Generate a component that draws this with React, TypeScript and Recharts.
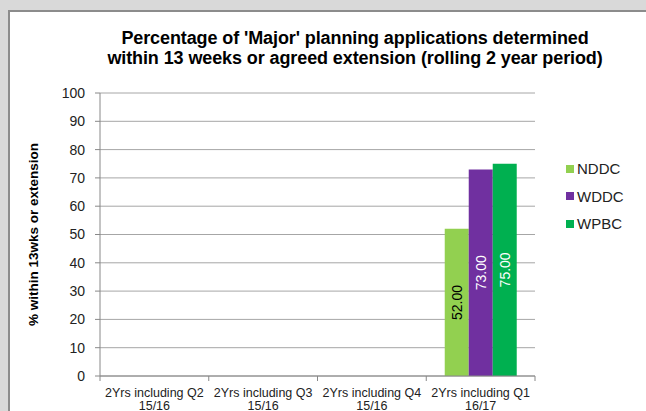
import React from 'react';
import { BarChart, Bar, XAxis, YAxis, CartesianGrid, LabelList } from 'recharts';

const categories = [
  ['2Yrs including Q2', '15/16'],
  ['2Yrs including Q3', '15/16'],
  ['2Yrs including Q4', '15/16'],
  ['2Yrs including Q1', '16/17'],
];
const nddc: (number | null)[] = [null, null, null, 52];
const wddc: (number | null)[] = [null, null, null, 73];
const wpbc: (number | null)[] = [null, null, null, 75];
const yTicks = [0, 10, 20, 30, 40, 50, 60, 70, 80, 90, 100];

const seriesInfo = [
  { key: 'NDDC', color: '#92d050', labelColor: '#000000' },
  { key: 'WDDC', color: '#7030a0', labelColor: '#ffffff' },
  { key: 'WPBC', color: '#00b050', labelColor: '#ffffff' },
];

const data = categories.map((c, i) => ({
  name: c.join('\n'),
  NDDC: nddc[i],
  WDDC: wddc[i],
  WPBC: wpbc[i],
}));

const FONT = '"Liberation Sans", Arial, sans-serif';

const XTick = (props: any) => {
  const { x, y, payload, index, visibleTicksCount } = props;
  const lines = String(payload.value).split('\n');
  const off = payload.offset || 0;
  return (
    <g>
      <line x1={x - off} x2={x - off} y1={y - 8} y2={y - 3} stroke="#888" />
      {index === (visibleTicksCount ?? 4) - 1 && (
        <line x1={x + off} x2={x + off} y1={y - 8} y2={y - 3} stroke="#888" />
      )}
      <text x={x} y={y} textAnchor="middle" fontSize={12.5} fill="#222" fontFamily={FONT}>
        {lines.map((l, i) => (
          <tspan key={i} x={x} dy={i === 0 ? 13 : 12.5}>{l}</tspan>
        ))}
      </text>
    </g>
  );
};

const makeLabel = (color: string) => (props: any) => {
  const { x, y, width, height, value } = props;
  if (value == null) return null;
  const cx = x + width / 2;
  const cy = y + height / 2;
  return (
    <text
      x={cx}
      y={cy}
      transform={`rotate(-90 ${cx} ${cy})`}
      textAnchor="middle"
      dominantBaseline="central"
      fontSize={14}
      fill={color}
      fontFamily={FONT}
    >
      {Number(value).toFixed(2)}
    </text>
  );
};

export default function App() {
  return (
    <div style={{ position: 'absolute', left: 0, top: 0, width: 646, height: 411, background: '#d9d9d9', overflow: 'hidden' }}>
      <div style={{ position: 'absolute', left: 8, top: 10, width: 700, height: 500, background: '#fff', borderLeft: '2px solid #8c8c8c', borderTop: '2px solid #8c8c8c' }} />
      <div
        style={{
          position: 'absolute', left: 60, top: 29, width: 590, textAlign: 'center',
          fontFamily: FONT, fontWeight: 'bold', fontSize: 18, lineHeight: '19.5px', color: '#000',
          letterSpacing: '-0.1px', whiteSpace: 'nowrap',
        }}
      >
        Percentage of 'Major' planning applications determined<br />
        within 13 weeks or agreed extension (rolling 2 year period)
      </div>
      <div style={{ position: 'absolute', left: 0, top: 0 }}>
        <BarChart
          width={646}
          height={411}
          data={data}
          margin={{ top: 93, right: 111, bottom: 0, left: 0 }}
          barCategoryGap="17%"
          barGap={0}
        >
          <CartesianGrid horizontal vertical={false} stroke="#a6a6a6" />
          <XAxis
            dataKey="name"
            height={35}
            axisLine={{ stroke: '#888' }}
            tickLine={false}
            tick={<XTick />}
            interval={0}
          />
          <YAxis
            width={100}
            domain={[0, 100]}
            ticks={yTicks}
            interval={0}
            axisLine={{ stroke: '#888' }}
            tickLine={{ stroke: '#888' }}
            tickSize={5}
            tickMargin={10}
            tick={{ fontSize: 14, fill: '#222', fontFamily: FONT }}
            label={{
              value: '% within 13wks or extension',
              angle: -90,
              position: 'insideLeft',
              dx: 28,
              dy: 0,
              style: { textAnchor: 'middle', fontSize: 13.5, fontWeight: 'bold', fill: '#000', fontFamily: FONT },
            }}
          />
          {seriesInfo.map((s) => (
            <Bar key={s.key} dataKey={s.key} fill={s.color} isAnimationActive={false}>
              <LabelList dataKey={s.key} content={makeLabel(s.labelColor)} />
            </Bar>
          ))}
        </BarChart>
      </div>
      <div style={{ position: 'absolute', left: 566, top: 155, fontFamily: FONT, fontSize: 15, color: '#222' }}>
        {seriesInfo.map((s) => (
          <div key={s.key} style={{ display: 'flex', alignItems: 'center', height: 27.5 }}>
            <span style={{ display: 'inline-block', width: 8, height: 8, background: s.color, marginRight: 3 }} />
            <span>{s.key}</span>
          </div>
        ))}
      </div>
    </div>
  );
}
